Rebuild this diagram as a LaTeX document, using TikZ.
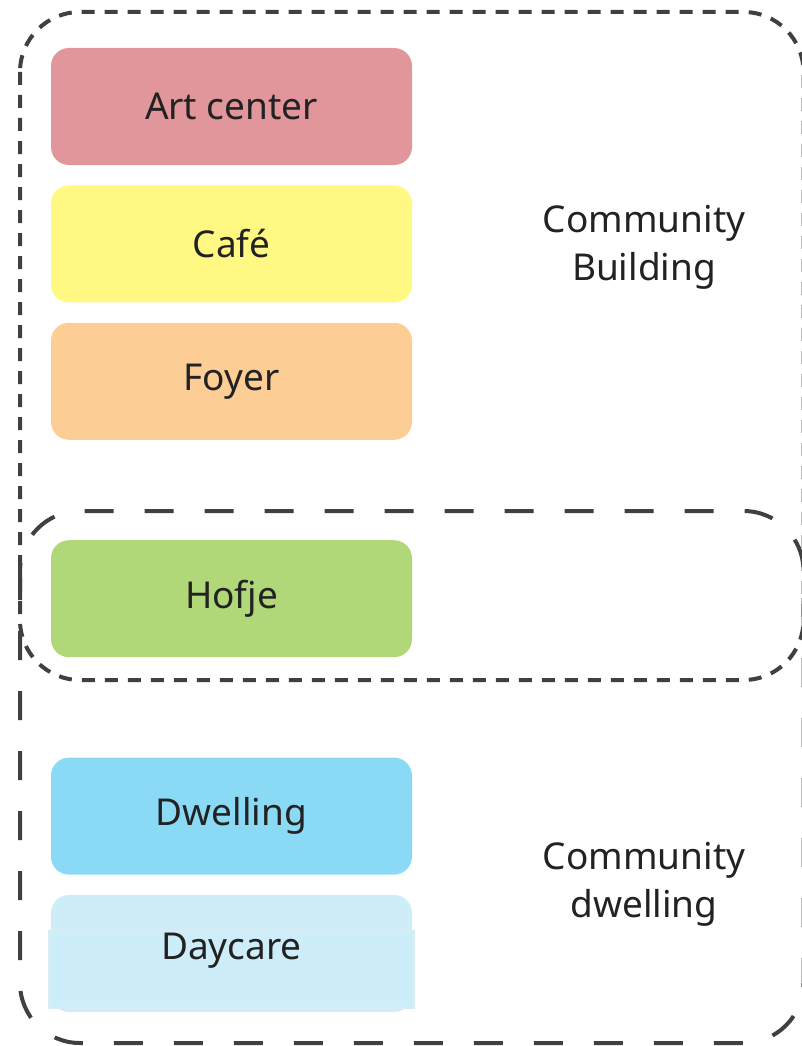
\documentclass[tikz,border=0pt]{standalone}
\usepackage{fontspec}
\setmainfont{Noto Sans}
\usepackage{tikz}
\usetikzlibrary{positioning}
\definecolor{edge}{HTML}{404040}
\definecolor{ink}{HTML}{222222}
\definecolor{artc}{HTML}{E0969B}
\definecolor{cafe}{HTML}{FFF882}
\definecolor{foyer}{HTML}{FDCD96}
\definecolor{hofje}{HTML}{B0D878}
\definecolor{dwell}{HTML}{8ADAF5}
\definecolor{daycare}{HTML}{CDEEF9}
\definecolor{daycareline}{HTML}{DCEBF2}

\begin{document}
\begin{tikzpicture}[x=1pt,y=-1pt,font=\fontsize{37}{48}\selectfont,
  room/.style={rounded corners=18pt,minimum width=361pt,minimum height=117pt,inner sep=0pt,text=ink},
  zone/.style={draw=edge,line width=4pt,rounded corners=60pt},
  zonelabel/.style={align=center,text=ink}]
  \useasboundingbox (0,0) rectangle (801,1046);
  \draw[zone,dash pattern=on 13pt off 10pt] (20,12) rectangle (803.5,680);
  \draw[zone,dash pattern=on 29pt off 31pt] (20,511) rectangle (803.5,1043);
  \node[room,fill=artc] (art) at (231.5,106.5) {Art center};
  \node[room,fill=cafe,below=20pt of art] (cafe) {Café};
  \node[room,fill=foyer,below=20pt of cafe] (foyer) {Foyer};
  \node[room,fill=hofje,below=100pt of foyer] (hofje) {Hofje};
  \node[room,fill=dwell,below=100pt of hofje] (dwelling) {Dwelling};
  \node[room,fill=daycare,below=20pt of dwelling] (daycare) {};
  \draw[draw=daycareline,fill=daycare,line width=1.5pt] (49,931) rectangle (414,1008);
  \node[text=ink] (daycaretext) at (231.5,951) {Daycare};
  \node[zonelabel] (building) at (644,247) {Community\\Building};
  \node[zonelabel] (dwellzone) at (644,884) {Community\\dwelling};
\end{tikzpicture}
\end{document}
